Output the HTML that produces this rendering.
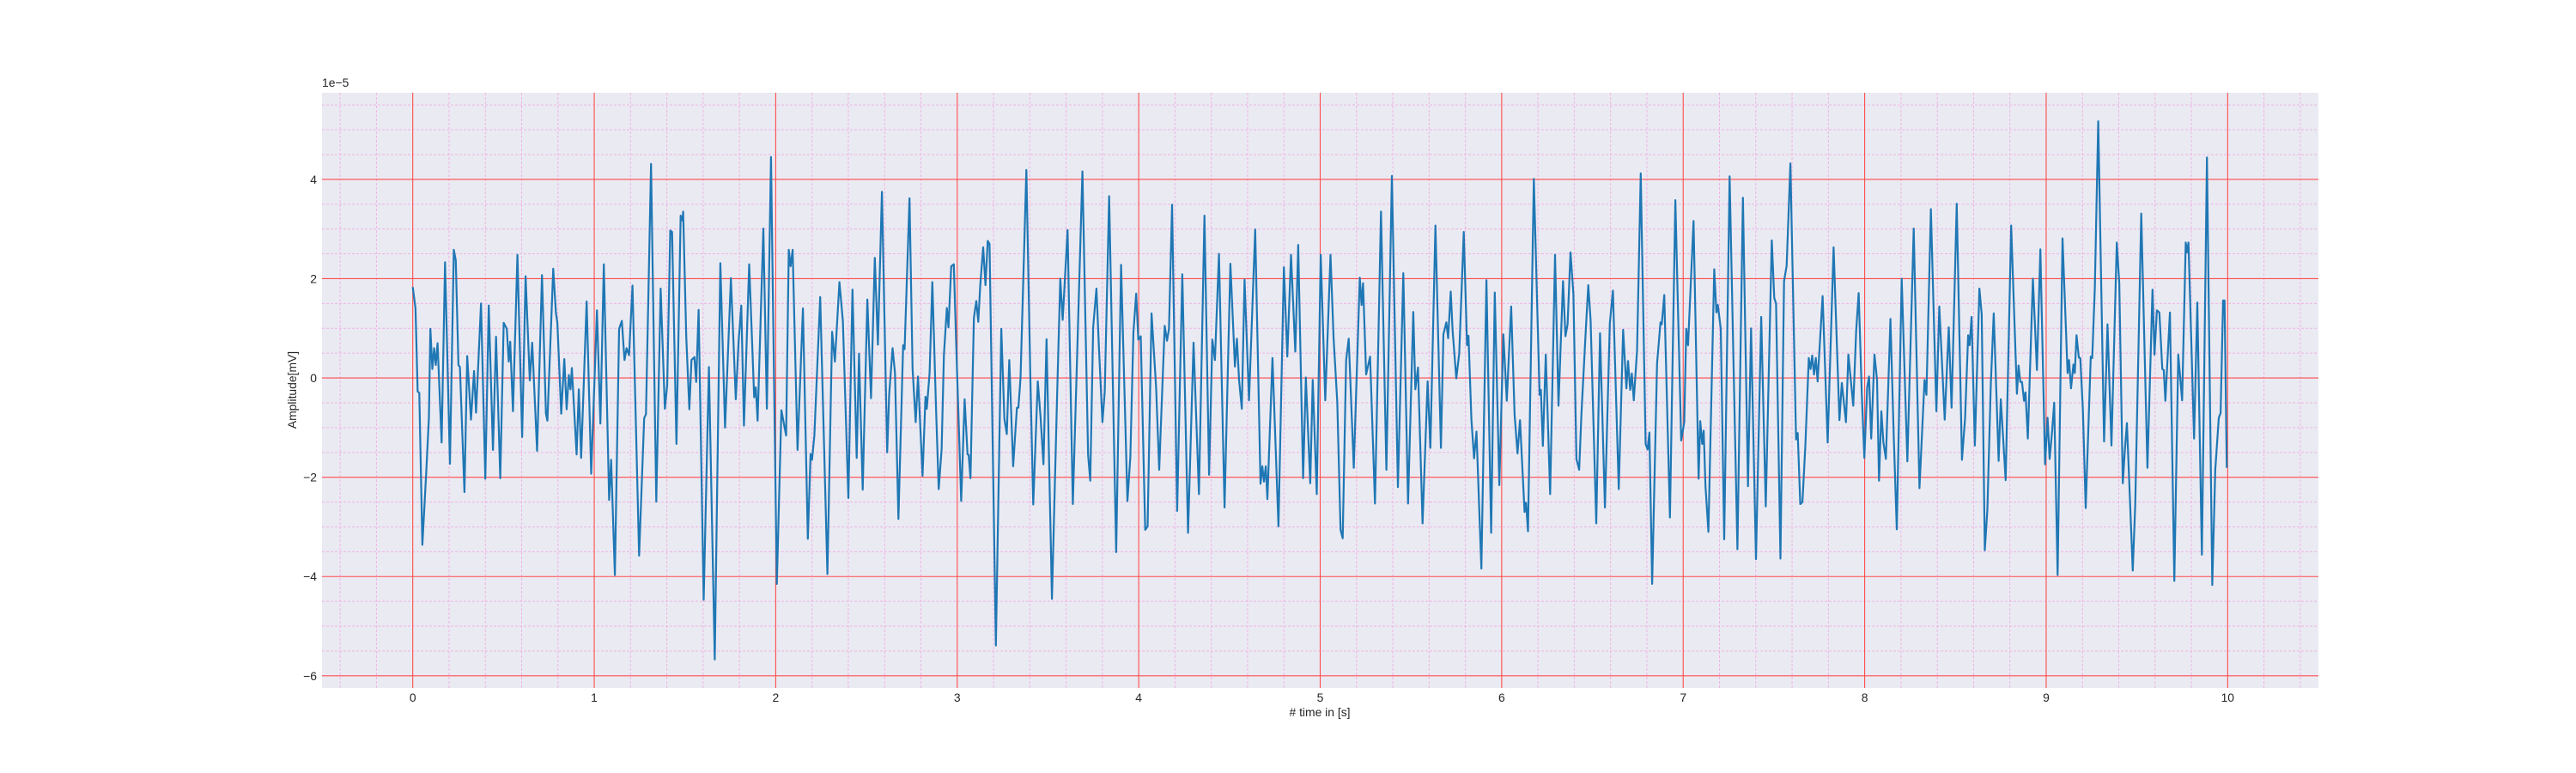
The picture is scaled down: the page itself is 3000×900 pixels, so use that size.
<!DOCTYPE html>
<html><head><meta charset="utf-8"><style>
html,body{margin:0;padding:0;background:#fff;}
svg{display:block;font-family:"Liberation Sans",Arial,sans-serif;}
</style></head><body>
<svg id="chart" width="3000" height="900" viewBox="0 0 3000 900" xmlns="http://www.w3.org/2000/svg">
<rect x="375" y="108" width="2325" height="693" fill="#eaeaf2"/>
<g id="grid"></g>
<g id="ticks"></g>
<path id="signal" fill="none" stroke="#1f77b4" stroke-width="2.2" stroke-linejoin="round"/>
<text x="1537" y="834" font-size="13.9" fill="#262626" text-anchor="middle"># time in [s]</text>
<text x="0" y="0" font-size="13.9" fill="#262626" text-anchor="middle" transform="translate(345,454) rotate(-90)">Amplitude[mV]</text>
<text x="375" y="101" font-size="13.9" fill="#262626">1e−5</text>
</svg>
<script>
const xTicks=[0,1,2,3,4,5,6,7,8,9,10];
const yTicks=[-6,-4,-2,0,2,4];
const yTickLabels=["−6","−4","−2","0","2","4"];
const times=[0,0.015,0.027,0.036,0.053,0.074,0.089,0.097,0.108,0.118,0.127,0.137,0.159,0.178,0.205,0.226,0.237,0.252,0.26,0.285,0.3,0.321,0.338,0.349,0.376,0.4,0.419,0.442,0.459,0.482,0.501,0.518,0.529,0.537,0.552,0.577,0.603,0.622,0.645,0.658,0.685,0.712,0.734,0.742,0.759,0.774,0.789,0.797,0.818,0.835,0.848,0.86,0.869,0.877,0.903,0.915,0.928,0.958,0.983,1.015,1.034,1.053,1.082,1.093,1.114,1.137,1.152,1.167,1.178,1.192,1.211,1.247,1.275,1.285,1.313,1.342,1.366,1.389,1.402,1.419,1.429,1.453,1.476,1.486,1.49,1.507,1.524,1.536,1.552,1.562,1.575,1.603,1.632,1.664,1.695,1.721,1.753,1.78,1.795,1.81,1.825,1.854,1.881,1.89,1.9,1.932,1.951,1.974,2.006,2.031,2.057,2.072,2.082,2.093,2.12,2.15,2.177,2.192,2.2,2.213,2.245,2.285,2.311,2.326,2.351,2.37,2.4,2.423,2.446,
2.459,2.479,2.505,2.525,2.546,2.563,2.585,2.614,2.625,2.644,2.657,2.676,2.702,2.71,2.737,2.754,2.771,2.784,2.809,2.825,2.832,2.848,2.863,2.883,2.898,2.914,2.927,2.943,2.952,2.967,2.981,2.997,3.022,3.041,3.057,3.063,3.073,3.092,3.105,3.116,3.127,3.143,3.156,3.168,3.178,3.213,3.243,3.26,3.273,3.287,3.308,3.329,3.337,3.349,3.381,3.403,3.419,3.444,3.459,3.475,3.492,3.522,3.549,3.568,3.581,3.608,3.637,3.657,3.69,3.721,3.733,3.749,3.767,3.781,3.8,3.813,3.837,3.876,3.903,3.938,3.954,3.971,
3.986,3.998,4.011,4.036,4.049,4.071,4.096,4.113,4.143,4.156,4.167,4.184,4.212,4.24,4.272,4.302,4.332,4.362,4.388,4.406,4.42,4.442,4.473,4.505,4.53,4.541,4.553,4.568,4.583,4.608,4.642,4.671,4.681,4.69,4.7,4.709,4.737,4.77,4.8,4.819,4.839,4.863,4.879,4.906,4.921,4.945,4.959,4.981,5.003,5.028,5.057,5.074,5.094,5.112,5.124,5.143,5.157,5.185,5.218,5.228,5.236,5.253,5.275,5.302,5.335,5.365,5.395,5.428,5.458,5.484,5.513,5.524,
5.539,5.564,5.592,5.607,5.635,5.665,5.679,5.695,5.705,5.719,5.73,5.75,5.766,5.791,5.809,5.817,5.833,5.848,5.861,5.888,5.916,5.942,5.962,5.987,6.009,6.028,6.052,6.071,6.087,6.101,6.126,6.134,6.145,6.177,6.209,6.216,6.227,6.243,6.267,6.294,6.313,6.338,6.351,6.363,6.379,6.395,6.412,6.427,6.439,6.461,6.477,6.49,6.521,6.542,6.569,6.596,6.613,6.645,6.669,6.687,6.696,6.708,6.717,6.728,6.746,6.766,6.793,6.804,6.814,6.829,6.856,6.875,6.882,6.896,6.927,6.957,6.989,7.006,7.017,7.027,7.057,7.085,
7.094,7.105,7.113,7.123,7.139,7.171,7.183,7.191,7.207,7.226,7.256,7.299,7.329,7.357,7.374,7.401,7.43,7.455,7.488,7.502,7.512,7.536,7.556,7.57,7.591,7.622,7.631,7.645,7.657,7.673,7.692,7.702,7.711,7.721,7.731,7.741,7.768,7.796,7.829,7.861,7.874,7.897,7.91,7.937,7.953,7.967,7.984,7.998,8.014,8.024,8.036,8.054,8.068,8.079,8.092,8.103,8.117,8.142,8.16,8.177,8.204,8.235,8.27,8.302,8.33,8.34,8.365,8.395,8.411,8.441,8.463,8.479,8.507,8.536,8.553,8.57,8.578,8.589,8.607,8.632,
8.645,8.662,8.676,8.695,8.711,8.738,8.75,8.777,8.807,8.839,8.848,8.858,8.867,8.878,8.886,8.899,8.927,8.949,8.968,8.994,9.008,9.019,9.032,9.044,9.063,9.09,9.118,9.126,9.137,9.15,9.158,9.167,9.18,9.188,9.202,9.218,9.246,9.254,9.268,9.287,9.319,9.338,9.36,9.389,9.403,9.422,9.433,9.445,9.477,9.491,9.524,9.558,9.586,9.597,9.61,9.624,9.64,9.648,9.657,9.682,9.706,9.728,9.749,9.769,9.776,9.784,9.815,9.833,9.858,9.886,9.915,9.932,9.951,9.961,9.975,9.983,9.995];
const amplitudes=[1.83,1.4,-0.27,-0.3,-3.36,-1.93,-0.8,0.99,0.18,0.6,0.26,0.7,-1.3,2.33,-1.73,2.58,2.37,0.26,0.22,-2.3,0.44,-0.84,0.14,-0.7,1.5,-2.03,1.46,-1.45,0.83,-2.02,1.11,0.99,0.33,0.73,-0.67,2.48,-1.19,2.05,-0.05,0.71,-1.47,2.07,-0.72,-0.86,0.76,2.2,1.32,1.11,-0.72,0.38,-0.63,0.06,-0.23,0.2,-1.54,-0.23,-1.61,1.54,-1.93,1.36,-0.92,2.29,-2.46,-1.65,-3.97,0.99,1.15,0.36,0.6,0.46,1.86,-3.58,-0.81,-0.73,4.31,-2.49,1.8,-0.62,-0.15,2.97,2.94,-1.33,3.27,3.17,3.35,0.83,-0.63,0.36,0.42,-0.08,1.37,-4.47,0.22,-5.67,2.31,-1.0,2.01,-0.43,0.71,1.46,-0.96,2.29,-0.39,-0.19,-0.86,3.01,-0.62,4.45,-4.15,-0.65,-1.16,2.58,2.25,2.58,-1.45,1.4,-3.24,-1.53,-1.65,-1.16,1.63,-3.95,0.93,0.33,1.93,1.15,-2.42,1.78,-1.61,
0.49,-2.25,1.58,-0.41,2.42,0.67,3.75,-1.5,-0.34,0.6,0.1,-2.84,0.66,0.58,3.62,0.18,-0.89,0.03,-1.97,-0.38,-0.62,0.1,1.93,-0.56,-2.24,-1.44,0.47,1.41,1.02,2.25,2.29,0.4,-2.48,-0.43,-1.54,-1.55,-2.02,1.21,1.55,1.13,1.87,2.63,1.87,2.76,2.7,-5.39,0.99,-0.82,-1.13,0.36,-1.78,-0.6,-0.6,0,4.19,-0.04,-2.55,-0.07,-0.78,-1.74,0.78,-4.45,-0.56,2.0,1.17,2.98,-2.54,-0.04,4.16,-1.55,-2.07,1.02,1.8,0.62,-0.89,-0.27,3.66,-3.51,2.28,-2.48,-1.59,0.93,
1.7,0.77,0.84,-3.06,-2.99,1.3,-0.19,-1.85,1.05,0.75,0.99,3.49,-2.68,2.09,-3.12,0.71,-2.34,3.27,-1.95,0.77,0.36,2.5,-2.61,2.3,0.23,0.79,-0.04,-0.62,1.98,-0.45,2.99,-2.13,-1.78,-2.09,-1.78,-2.44,0.4,-2.99,2.23,0.43,2.48,0.53,2.68,-2.02,0.01,-2.12,-0.04,-2.34,2.48,-0.45,2.48,0.8,-0.49,-3.06,-3.23,0.36,0.79,-1.81,2.02,1.47,1.91,0.07,0.43,-2.53,3.35,-1.85,4.07,-2.2,2.11,-2.53,1.33,-0.23,
0.21,-2.93,-0.07,-1.41,3.07,-1.41,0.88,1.12,0.8,1.74,0.93,-0.01,0.49,2.94,0.66,0.85,-0.84,-1.62,-1.08,-3.84,1.97,-3.12,1.72,-2.16,0.88,-0.46,1.44,-0.74,-1.52,-0.85,-2.7,-2.51,-3.09,4.01,-0.34,-0.24,-1.37,0.47,-2.34,2.48,-0.56,1.95,0.84,1.08,2.53,1.69,-1.63,-1.85,-0.74,0.8,1.87,1.17,-2.93,0.9,-2.61,1.1,1.76,-2.24,0.97,-0.21,0.34,-0.24,0.09,-0.45,0.55,4.12,-1.33,-1.44,-1.1,-4.15,0.29,1.12,1.08,1.67,-2.81,3.58,-1.26,-0.89,0.99,0.66,3.16,-2.03,
-0.87,-1.33,-1.06,-2.18,-3.1,2.19,1.32,1.47,0.99,-3.25,4.06,-3.45,3.63,-2.18,1.0,-3.65,1.23,-2.59,2.77,1.61,1.5,-3.64,1.95,2.26,4.32,-1.24,-1.11,-2.54,-2.5,-1.37,0.4,0.18,0.45,0.07,0.4,-0.07,1.65,-1.3,2.63,-0.85,-0.1,-0.89,0.47,-0.56,0.95,1.71,-0.3,-1.61,-0.19,0.03,-1.22,0.47,-0.04,-2.07,-0.67,-1.3,-1.63,1.19,-1.15,-3.05,2.0,-1.68,3.01,-2.22,-0.04,-0.34,3.4,-0.67,1.44,-0.84,1.02,-0.6,3.51,-1.65,-0.82,0.86,0.66,1.23,-1.36,1.8,
1.28,-3.47,-2.65,-0.12,1.3,-1.67,-0.43,-2.06,3.07,-0.32,0.25,-0.08,-0.08,-0.46,-0.29,-1.22,2.0,0.16,2.59,-1.74,-0.8,-1.63,-1.11,-0.5,-3.97,2.81,0.1,0.36,-0.21,0.27,0.1,0.86,0.41,0.4,-0.63,-2.62,0.43,0.4,1.8,5.17,-1.28,1.08,-1.36,2.73,1.91,-2.12,-1.48,-0.91,-3.88,-2.55,3.31,-1.81,1.78,0.47,1.36,1.32,0.18,0.16,-0.46,1.32,-4.09,0.47,-0.45,2.73,2.53,2.73,-1.22,1.52,-3.56,4.44,-4.17,-1.85,-0.8,-0.71,1.56,1.56,-1.81];

const AX_L=375,AX_R=2700,AX_T=108,AX_B=801,XMIN=-0.5,XMAX=10.5,YMIN=-6.245,YMAX=5.745;
function xs(t){return AX_L+(t-XMIN)/(XMAX-XMIN)*(AX_R-AX_L);}
function ys(v){return AX_B-(v-YMIN)/(YMAX-YMIN)*(AX_B-AX_T);}
const NS='http://www.w3.org/2000/svg';
const grid=document.getElementById('grid');
const ticks=document.getElementById('ticks');
function line(x1,y1,x2,y2,stroke,w,dash){const l=document.createElementNS(NS,'line');
l.setAttribute('x1',x1);l.setAttribute('y1',y1);l.setAttribute('x2',x2);l.setAttribute('y2',y2);
l.setAttribute('stroke',stroke);l.setAttribute('stroke-width',w);if(dash)l.setAttribute('stroke-dasharray',dash);grid.appendChild(l);return l;}
// minor grid
for(let i=-2;i<=52;i++){const t=i*0.2;if(Math.abs(t-Math.round(t))<1e-6)continue;
 const l=line(xs(t),AX_T,xs(t),AX_B,'#f0b4e4',1,'3,2');
 
 }
for(let i=-12;i<=11;i++){const v=i*0.5;if(Math.abs(v/2-Math.round(v/2))<1e-6)continue;
 const l=line(AX_L,ys(v),AX_R,ys(v),'#f0b4e4',1,'3,2');
 
 }
// major grid and labels
xTicks.forEach(t=>{const l=line(xs(t),AX_T,xs(t),AX_B,'#ff4c4c',1.1);
 
 
 const tx=document.createElementNS(NS,'text');tx.setAttribute('x',xs(t));tx.setAttribute('y',817);
 tx.setAttribute('font-size','13.9');tx.setAttribute('fill','#262626');tx.setAttribute('text-anchor','middle');tx.textContent=String(t);
 
 
 ticks.appendChild(tx);});
yTicks.forEach((v,i)=>{const l=line(AX_L,ys(v),AX_R,ys(v),'#ff4c4c',1.1);
 
 
 const tx=document.createElementNS(NS,'text');tx.setAttribute('x',369);tx.setAttribute('y',ys(v)+5);
 tx.setAttribute('font-size','13.9');tx.setAttribute('fill','#262626');tx.setAttribute('text-anchor','end');tx.textContent=yTickLabels[i];
 
 
 ticks.appendChild(tx);});
let d='';times.forEach((t,i)=>{d+=(i?'L':'M')+xs(t).toFixed(1)+','+ys(amplitudes[i]).toFixed(1);});
document.getElementById('signal').setAttribute('d',d);
</script>
</body></html>
